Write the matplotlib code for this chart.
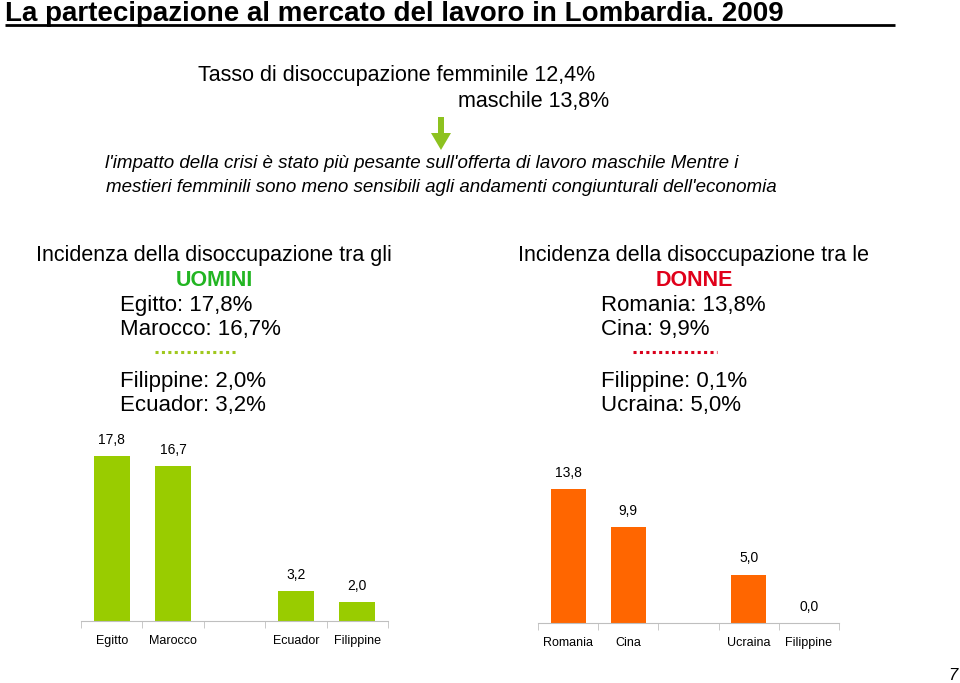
import numpy as np
import matplotlib
matplotlib.use('Agg')
import matplotlib.pyplot as plt

plt.rcParams['font.family'] = ['Liberation Sans', 'DejaVu Sans']

# dati
uomini_paesi = ['Egitto', 'Marocco', '', 'Ecuador', 'Filippine']
uomini_val = [17.8, 16.7, np.nan, 3.2, 2.0]
donne_paesi = ['Romania', 'Cina', '', 'Ucraina', 'Filippine']
donne_val = [13.8, 9.9, np.nan, 5.0, 0.0]

uomini_righe = ['Egitto: 17,8%', 'Marocco: 16,7%', 'Filippine: 2,0%', 'Ecuador: 3,2%']
donne_righe = ['Romania: 13,8%', 'Cina: 9,9%', 'Filippine: 0,1%', 'Ucraina: 5,0%']

VERDE = '#99CC00'
ARANCIO = '#FF6600'
W, H = 960, 683

fig = plt.figure(figsize=(9.6, 6.83), dpi=100)

# livello testo in coordinate pixel (y dall'alto)
bg = fig.add_axes([0, 0, 1, 1])
bg.set_xlim(0, W)
bg.set_ylim(H, 0)
bg.axis('off')

bg.text(5, 21, 'La partecipazione al mercato del lavoro in Lombardia. 2009',
        fontsize=20, fontweight='bold', va='baseline', ha='left')
bg.plot([5, 895], [25, 25], color='black', lw=2, solid_capstyle='butt')

bg.text(397, 75, 'Tasso di disoccupazione femminile 12,4%', fontsize=15.5, ha='center', va='center')
bg.text(609, 101, 'maschile 13,8%', fontsize=15.5, ha='right', va='center')
bg.arrow(441, 117, 0, 33, width=6, head_width=20, head_length=17,
         length_includes_head=True, color='#8DC21F', lw=0)

bg.text(422, 164, "l'impatto della crisi è stato più pesante sull'offerta di lavoro maschile Mentre i",
        fontsize=13.5, style='italic', ha='center', va='center')
bg.text(441, 187, "mestieri femminili sono meno sensibili agli andamenti congiunturali dell'economia",
        fontsize=13.5, style='italic', ha='center', va='center')

def blocco(cx, x0, titolo, parola, colore, righe, dot_x, dot_col):
    bg.text(cx, 255, titolo, fontsize=15.5, ha='center', va='center')
    bg.text(cx, 280, parola, fontsize=15.5, fontweight='bold', color=colore, ha='center', va='center')
    for y, r in zip([305, 330, 381, 405], righe):
        bg.text(x0, y, r, fontsize=16, ha='left', va='center')
    bg.plot(dot_x, [352, 352], color=dot_col, lw=2.2, linestyle=(0, (1, 1.1)), solid_capstyle='butt')

blocco(214, 120, 'Incidenza della disoccupazione tra gli', 'UOMINI', '#22B522',
       uomini_righe, [155, 237], '#A0C81E')
blocco(694, 601, 'Incidenza della disoccupazione tra le', 'DONNE', '#E0001A',
       donne_righe, [633, 717], '#D9001B')

bg.text(953, 676, '7', fontsize=12, style='italic', ha='center', va='center')

def grafico(left, right, base, top, ymax, paesi, valori, colore):
    ax = fig.add_axes([left / W, (H - base) / H, (right - left) / W, (base - top) / H])
    x = np.arange(len(paesi))
    ax.bar(x, valori, width=0.58, color=colore)
    for xi, v in zip(x, valori):
        if np.isnan(v):
            continue
        ax.annotate(f'{v:.1f}'.replace('.', ','), (xi, v), xytext=(0, 16),
                    textcoords='offset pixels', ha='center', va='center', fontsize=10)
    ax.set_xlim(-0.5, len(paesi) - 0.5)
    ax.set_ylim(0, ymax)
    ax.set_xticks(x)
    ax.set_xticklabels(paesi, fontsize=9)
    ax.set_xticks(np.arange(len(paesi) + 1) - 0.5, minor=True)
    ax.tick_params(axis='x', which='major', length=0, pad=10)
    ax.tick_params(axis='x', which='minor', length=5, color='#BFBFBF', direction='out')
    ax.set_yticks([])
    for s in ['left', 'right', 'top']:
        ax.spines[s].set_visible(False)
    ax.spines['bottom'].set_color('#BFBFBF')
    ax.patch.set_alpha(0)
    return ax

grafico(81, 388, 621, 430, 191 / 9.27, uomini_paesi, uomini_val, VERDE)
grafico(538, 839, 623, 430, 193 / 9.7, donne_paesi, donne_val, ARANCIO)

fig.savefig('out.png', dpi=100)
